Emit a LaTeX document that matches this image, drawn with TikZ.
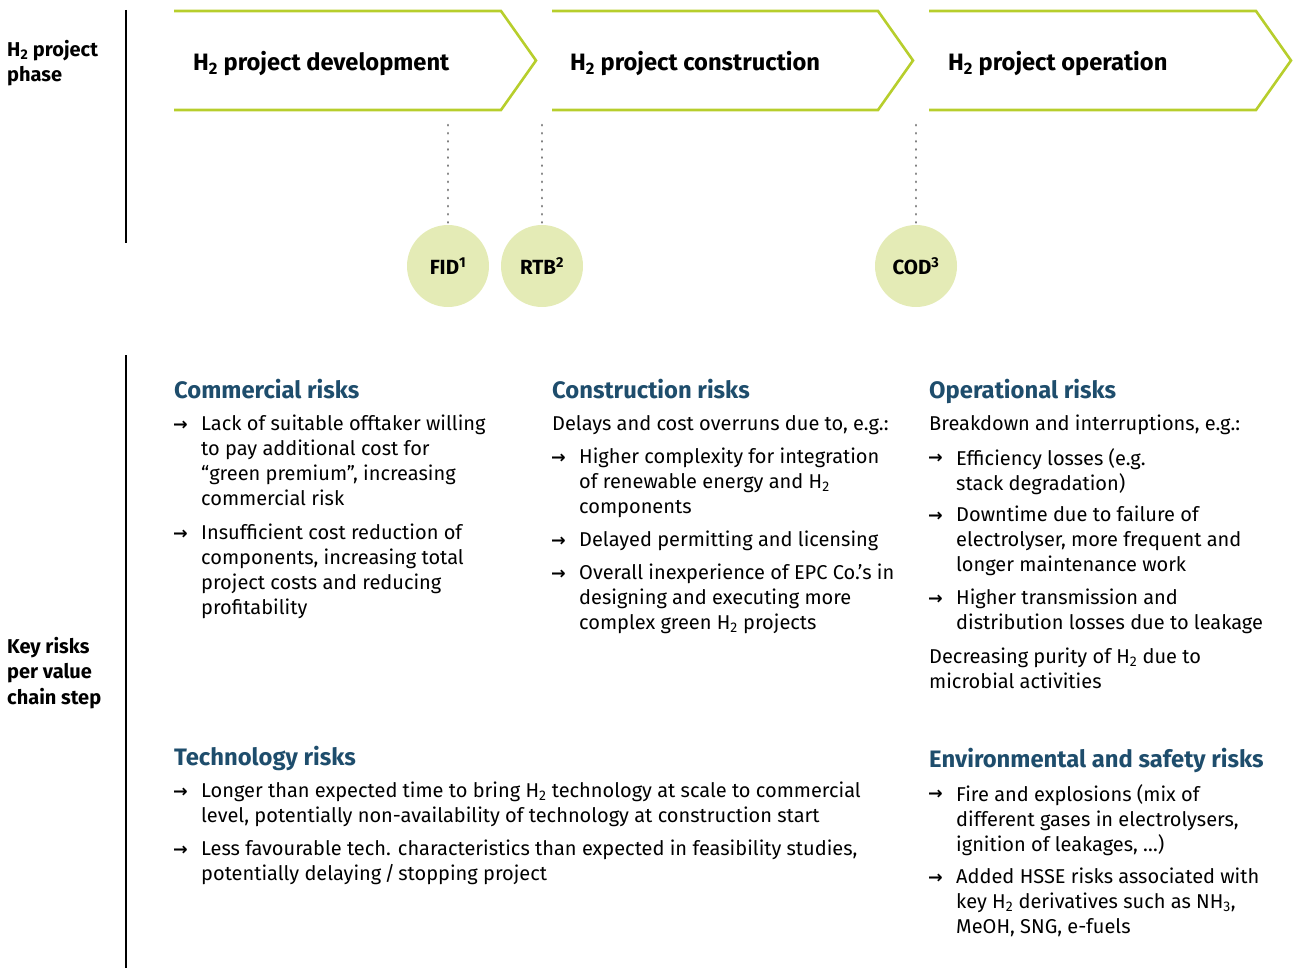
\documentclass[tikz,border=0pt]{standalone}
\usepackage{fontspec}
\setmainfont{Fira Sans}
\newfontfamily\arrowfont{DejaVu Sans}
\definecolor{lime}{HTML}{B7CE2C}
\definecolor{pale}{HTML}{E4EBB6}
\definecolor{headblue}{HTML}{1E4D6C}
\definecolor{dotgray}{HTML}{808080}
\newcommand\hlo[1]{\textsubscript{#1}}
\newcommand\hup[1]{\textsuperscript{#1}}
\newcommand\bodyfont{\fontsize{20}{25}\selectfont}
\newcommand\sr{\rule{0pt}{15pt}}
\begin{document}
\begin{tikzpicture}[x=1pt,y=-1pt,
  chev/.style={draw=lime, line width=2.6pt, line join=miter},
  milestone/.style={circle, fill=pale, minimum size=82pt, inner sep=0pt, font=\bfseries\fontsize{20.5}{20.5}\selectfont},
  dotline/.style={draw=dotgray, line width=2.6pt, line cap=round, dash pattern=on 0.3pt off 7.8pt},
  sideline/.style={draw=black, line width=1.3pt},
  sidelabel/.style={anchor=north west, inner sep=0pt, align=left, font=\bfseries\fontsize{20}{25.5}\selectfont},
  phasetext/.style={anchor=base west, inner sep=0pt, font=\bfseries\fontsize{23.7}{28}\selectfont},
  head/.style={anchor=base west, inner sep=0pt, text=headblue, font=\bfseries\fontsize{23.8}{28}\selectfont},
  body/.style={anchor=north west, inner sep=0pt, align=left, font=\bodyfont},
  arr/.style={anchor=base west, inner sep=0pt, font=\arrowfont\bfseries\fontsize{17.5}{17.5}\selectfont}
]
\useasboundingbox (0,0) rectangle (1297,968);

% side lines and labels
\draw[sideline] (126,10) -- (126,243);
\draw[sideline] (126,355) -- (126,968);
\node[sidelabel] (lab1) at (7,40) {H\hlo{2} project\\phase};
\node[sidelabel] (lab2) at (7,637) {Key risks\\per value\\chain step};

% chevrons
\draw[chev] (174,11) -- (501,11) -- (536,60.5) -- (501,110) -- (174,110);
\draw[chev] (552,11) -- (878,11) -- (913,60.5) -- (878,110) -- (552,110);
\draw[chev] (929,11) -- (1256,11) -- (1291,60.5) -- (1256,110) -- (929,110);
\node[phasetext] (ph1) at (193,71) {H\hlo{2} project development};
\node[phasetext] (ph2) at (570,71) {H\hlo{2} project construction};
\node[phasetext] (ph3) at (948,71) {H\hlo{2} project operation};

% milestones
\node[milestone] (fid) at (448,266) {FID\hup{1}};
\node[milestone] (rtb) at (542,266) {RTB\hup{2}};
\node[milestone] (cod) at (916,266) {COD\hup{3}};
\coordinate (fidtop) at (448,125);
\coordinate (rtbtop) at (542,125);
\coordinate (codtop) at (916,125);
\draw[dotline] (fidtop) -- ([yshift=-4pt]fid.north);
\draw[dotline] (rtbtop) -- ([yshift=-4pt]rtb.north);
\draw[dotline] (codtop) -- ([yshift=-4pt]cod.north);

% Commercial risks
\node[head] (h1) at (174,398) {Commercial risks};
\node[arr] (a11) at (173,430) {→};
\node[body] (t11) at (201,415) {\sr Lack of suitable offtaker willing\\to pay additional cost for\\“green premium”, increasing\\commercial risk};
\node[arr] (a12) at (173,539) {→};
\node[body] (t12) at (201,524) {\sr Insufficient cost reduction of\\components, increasing total\\project costs and reducing\\profitability};

% Construction risks
\node[head] (h2) at (552,398) {Construction risks};
\node[body] (i2) at (552,415) {\sr Delays and cost overruns due to, e.g.:};
\node[arr] (a21) at (551,463) {→};
\node[body] (t21) at (579,448) {\sr Higher complexity for integration\\of renewable energy and H\hlo{2}\\components};
\node[arr] (a22) at (551,546) {→};
\node[body] (t22) at (579,531) {\sr Delayed permitting and licensing};
\node[arr] (a23) at (551,579) {→};
\node[body] (t23) at (579,564) {\sr Overall inexperience of EPC Co.’s in\\designing and executing more\\complex green H\hlo{2} projects};

% Operational risks
\node[head] (h3) at (929,398) {Operational risks};
\node[body] (i3) at (929,415) {\sr Breakdown and interruptions, e.g.:};
\node[arr] (a31) at (928,463) {→};
\node[body] (t31) at (956,448) {\sr Efficiency losses (e.g.\\stack degradation)};
\node[arr] (a32) at (928,521) {→};
\node[body] (t32) at (956,506) {\sr Downtime due to failure of\\electrolyser, more frequent and\\longer maintenance work};
\node[arr] (a33) at (928,604) {→};
\node[body] (t33) at (956,589) {\sr Higher transmission and\\distribution losses due to leakage};
\node[body] (t34) at (929,648) {\sr Decreasing purity of H\hlo{2} due to\\microbial activities};

% Technology risks
\node[head] (h4) at (174,765) {Technology risks};
\node[arr] (a41) at (173,797) {→};
\node[body] (t41) at (201,782) {\sr Longer than expected time to bring H\hlo{2} technology at scale to commercial\\level, potentially non-availability of technology at construction start};
\node[arr] (a42) at (173,855) {→};
\node[body] (t42) at (201,840) {\sr Less favourable tech. characteristics than expected in feasibility studies,\\potentially delaying\,/\,stopping project};

% Environmental and safety risks
\node[head] (h5) at (929,767) {Environmental and safety risks};
\node[arr] (a51) at (928,799) {→};
\node[body] (t51) at (956,784) {\sr Fire and explosions (mix of\\different gases in electrolysers,\\ignition of leakages, …)};
\node[arr] (a52) at (928,883) {→};
\node[body] (t52) at (956,868) {\sr Added HSSE risks associated with\\key H\hlo{2} derivatives such as NH\hlo{3},\\MeOH, SNG, e-fuels};
\end{tikzpicture}
\end{document}
